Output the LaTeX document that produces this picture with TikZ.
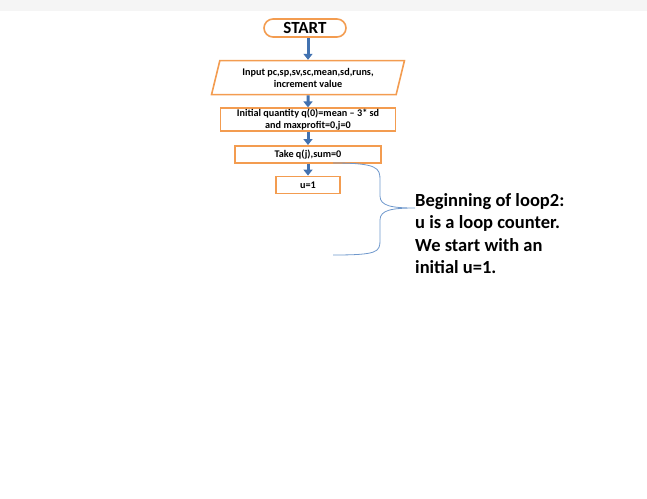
\documentclass[tikz,border=0pt]{standalone}
\usepackage{fontspec}
\setmainfont{Carlito}
\usepackage{tikz}
\usetikzlibrary{positioning,arrows.meta,shapes.geometric}

\definecolor{boxorange}{HTML}{F39C50}
\definecolor{arrblue}{HTML}{4272B0}
\definecolor{bracblue}{HTML}{6F98CC}

\begin{document}
\begin{tikzpicture}[
  x=1pt,y=1pt,
  box/.style={draw=boxorange,line width=1.6pt,fill=white,align=center,
              inner sep=0pt,font=\fontsize{10.2}{11.8}\selectfont\bfseries},
  term/.style={box,rounded corners=9pt,minimum width=82pt,minimum height=18pt,
               font=\fontsize{17}{18}\selectfont\bfseries},
  io/.style={box,trapezium,trapezium left angle=72,trapezium right angle=108,
             trapezium stretches=true,minimum width=193pt,minimum height=34pt},
  ar/.style={-{Triangle[width=9pt,length=6pt]},line width=3pt,arrblue},
  note/.style={align=left,inner sep=0pt,anchor=north west,
               font=\fontsize{18.5}{22.5}\selectfont\bfseries}
]
\useasboundingbox (0,0) rectangle (647,-498);
\fill[black!4] (0,0) rectangle (647,-11);

%% ---- the flow, top to bottom ----------------------------------------------
\node[term]                    (start) at (305,-28) {START};
\node[io,   below=22pt of start, xshift=3pt] (inp)
     {Input pc,sp,sv,sc,mean,sd,runs,\\increment value};
\node[box,  below=12pt of inp, minimum width=175pt, minimum height=23pt] (init)
     {Initial quantity q(0)=mean -- 3* sd\\and maxprofit=0,j=0};
\node[box,  below=13pt of init, minimum width=146pt, minimum height=17pt] (take)
     {Take q(j),sum=0};
\node[box,  below=12pt of take, minimum width=64pt, minimum height=17pt] (ucnt)
     {u=1};
\foreach \a/\b in {inp/init, init/take, take/ucnt} \draw[ar] (\a) -- (\b);
\draw[ar] (start.south -| inp.north) -- (inp.north);

%% ---- the brace and its note ---------------------------------------------------
\node[note] (loop) at (415,-193)
     {Beginning of loop2:\\u is a loop counter.\\We start with an\\initial u=1.};
\coordinate (bt) at (333,-163);
\coordinate (bb) at (333,-255);
\coordinate (tip) at (loop.west |- 0,-208);
\draw[bracblue,line width=0.8pt]
  (bt) .. controls (378,-163) and (380,-168) .. (380,-180) -- (380,-196)
  .. controls (380,-206) and (392,-208) .. (tip)
  .. controls (392,-208) and (380,-210) .. (380,-220) -- (380,-240)
  .. controls (380,-252) and (378,-255) .. (bb);
\end{tikzpicture}
\end{document}
